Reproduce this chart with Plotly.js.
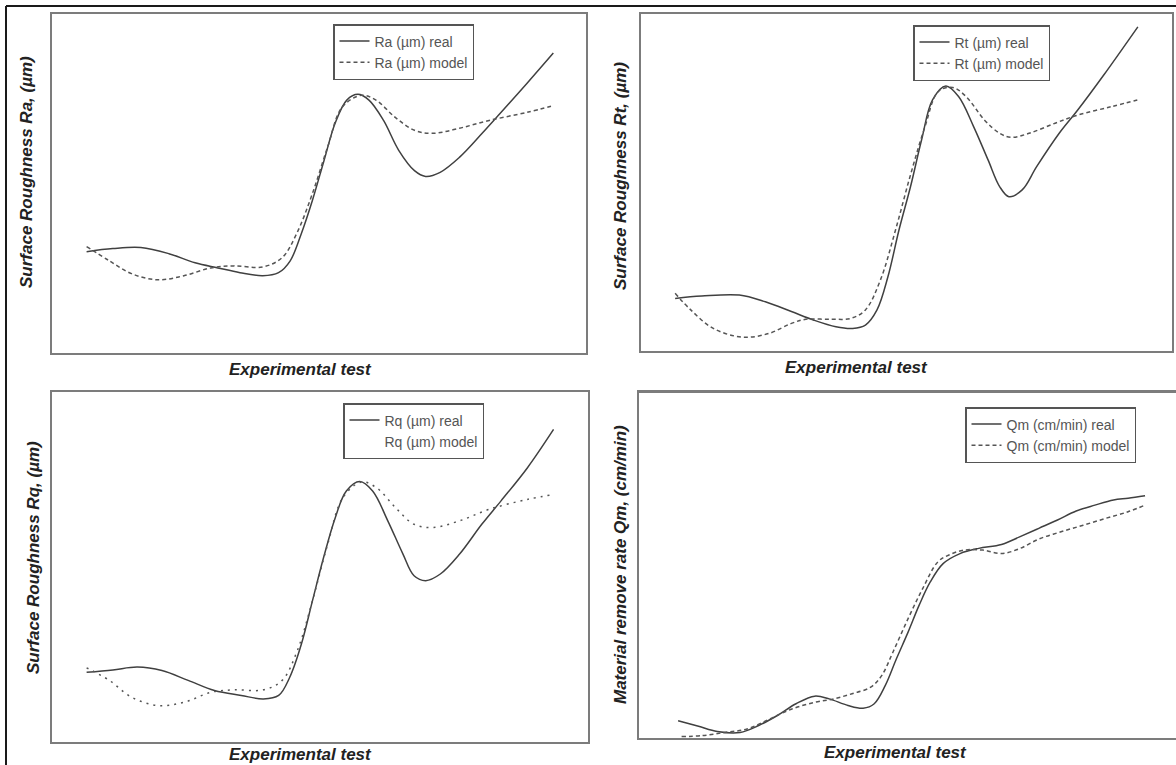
<!DOCTYPE html>
<html>
<head>
<meta charset="utf-8">
<script src="https://cdn.plot.ly/plotly-3.0.1.min.js"></script>
<style>html,body{margin:0;padding:0;background:#fff;}#chart{width:1176px;height:765px;}</style>
</head>
<body>
<div id="chart"></div>
<script>
// ---- Data (x = experimental test position, y = relative value) ----
const raTestReal  = [1.00,1.45,1.93,2.41,2.86,3.25,3.63,4.02,4.29,4.49,4.68,4.87,5.07,5.26,5.46,5.65,5.84,6.09,6.35,6.62,6.81,7.06,7.39,7.78,8.09,8.55,9.00];
const raReal      = [29.9,30.8,31.1,29.3,26.6,25.1,23.7,22.8,23.7,27.2,35.2,45.0,56.8,67.8,74.6,76.3,74.6,68.6,59.8,53.8,52.1,53.3,57.7,64.8,70.7,79.6,88.5];
const raTestModel = [1.00,1.39,1.77,2.22,2.67,3.13,3.52,4.02,4.35,4.60,4.87,5.13,5.38,5.71,5.96,6.29,6.62,6.93,7.39,7.90,8.55,8.96];
const raModel     = [31.4,27.2,23.4,21.6,22.8,25.1,25.7,25.4,28.1,35.2,47.0,60.7,72.5,76.0,74.6,69.5,65.7,64.8,66.3,68.6,71.0,72.8];

const rtTestReal  = [1.00,1.46,2.11,2.56,3.01,3.39,3.78,4.07,4.29,4.49,4.68,4.87,5.07,5.26,5.45,5.68,5.90,6.16,6.41,6.61,6.77,7.00,7.25,7.64,7.96,8.41,9.00];
const rtReal      = [15.6,16.3,16.6,14.6,11.7,9.2,7.2,6.7,7.7,12.2,22.1,35.9,48.8,62.6,74.5,78.6,75.5,66.6,56.7,48.8,45.8,47.8,54.7,64.6,71.5,81.9,96.2];
const rtTestModel = [1.00,1.27,1.66,2.17,2.62,3.01,3.26,3.71,4.04,4.29,4.55,4.81,5.06,5.32,5.55,5.80,6.03,6.35,6.61,6.80,7.12,7.57,7.96,8.54,8.99];
const rtModel     = [17.1,12.2,6.7,4.1,5.2,8.2,9.4,9.4,9.7,12.2,21.1,35.9,51.7,66.6,77.0,78.2,75.5,68.5,64.6,63.4,64.6,67.6,70.0,72.5,74.5];

const rqTestReal  = [1.00,1.45,1.87,2.29,2.74,3.19,3.65,4.03,4.29,4.48,4.68,4.87,5.06,5.26,5.45,5.68,5.90,6.16,6.42,6.61,6.81,7.06,7.39,7.77,8.10,8.55,9.00];
const rqReal      = [19.9,20.6,21.4,20.4,17.6,14.7,13.3,12.3,13.3,18.5,28.0,40.4,52.7,64.1,71.7,74.4,71.7,63.2,53.7,47.5,46.1,48.0,53.7,62.2,68.9,78.3,89.3];
const rqTestModel = [1.00,1.39,1.77,2.23,2.68,3.13,3.52,4.03,4.35,4.61,4.87,5.13,5.39,5.71,5.97,6.29,6.61,6.94,7.39,7.90,8.55,9.00];
const rqModel     = [21.2,17.6,12.8,10.4,11.4,14.2,14.9,14.9,17.6,26.1,40.4,56.5,69.8,74.3,72.6,67.0,62.2,61.3,63.2,66.5,69.3,70.7];

const qmTestReal  = [1.00,1.35,1.67,2.06,2.38,2.70,3.02,3.34,3.59,3.91,4.17,4.36,4.55,4.74,4.94,5.13,5.32,5.54,5.83,6.15,6.54,6.86,7.18,7.50,7.82,8.14,8.46,8.71,9.00];
const qmReal      = [5.0,3.4,1.9,1.6,3.6,6.5,9.9,12.1,11.3,9.4,8.6,9.9,15.2,22.9,30.6,38.4,45.1,50.4,53.3,54.8,55.9,58.2,60.6,63.0,65.6,67.3,68.8,69.3,70.0];
const qmTestModel = [1.06,1.42,1.80,2.18,2.57,2.95,3.34,3.66,3.98,4.30,4.49,4.68,4.94,5.19,5.45,5.64,5.90,6.22,6.54,6.86,7.18,7.56,7.94,8.33,8.71,9.00];
const qmModel     = [0.4,0.7,1.6,2.6,5.5,8.4,10.3,11.3,12.8,14.7,18.1,24.8,34.5,43.2,50.9,52.9,54.3,54.3,53.3,54.8,57.5,59.6,61.5,63.5,65.4,67.3];

const seriesNames = {
  ra: ['Ra (µm) real', 'Ra (µm) model'],
  rt: ['Rt (µm) real', 'Rt (µm) model'],
  rq: ['Rq (µm) real', 'Rq (µm) model'],
  qm: ['Qm (cm/min) real', 'Qm (cm/min) model']
};
const yTitles = ['Surface Roughness Ra, (µm)', 'Surface Roughness Rt, (µm)', 'Surface Roughness Rq, (µm)', 'Material remove rate Qm, (cm/min)'];
const xTitle = 'Experimental test';

// ---- Figure ----
const W = 1176, H = 765;
const FONT = 'Liberation Sans, Arial, sans-serif';
const LINE = '#404040';
const px = v => v / W, py = v => 1 - v / H;

function real(x, y, name, xa, ya, lg) {
  return {x, y, name, xaxis: xa, yaxis: ya, legend: lg, type: 'scatter', mode: 'lines',
          line: {color: LINE, width: 1.5, shape: 'spline', smoothing: 1}};
}
function model(x, y, name, xa, ya, lg, dash) {
  return {x, y, name, xaxis: xa, yaxis: ya, legend: lg, type: 'scatter', mode: 'lines',
          line: {color: '#555', width: 1.5, shape: 'spline', smoothing: 1, dash: dash || '4px,3px'}};
}

const traces = [
  real(raTestReal, raReal, seriesNames.ra[0], 'x', 'y', 'legend'),
  model(raTestModel, raModel, seriesNames.ra[1], 'x', 'y', 'legend'),
  real(rtTestReal, rtReal, seriesNames.rt[0], 'x2', 'y2', 'legend2'),
  model(rtTestModel, rtModel, seriesNames.rt[1], 'x2', 'y2', 'legend2'),
  real(rqTestReal, rqReal, seriesNames.rq[0], 'x3', 'y3', 'legend3'),
  Object.assign(model(rqTestModel, rqModel, seriesNames.rq[1], 'x3', 'y3', 'legend3', '2px,5px'), {showlegend: false}),
  {x: [null], y: [null], name: seriesNames.rq[1], xaxis: 'x3', yaxis: 'y3', legend: 'legend3', type: 'scatter', mode: 'lines',
   line: {color: 'rgba(0,0,0,0)', width: 1}},
  real(qmTestReal, qmReal, seriesNames.qm[0], 'x4', 'y4', 'legend4'),
  model(qmTestModel, qmModel, seriesNames.qm[1], 'x4', 'y4', 'legend4')
];

function axis(domain, range, anchor, mirror) {
  return {domain, range, anchor, showline: true, mirror: mirror === undefined ? true : mirror,
          linecolor: '#7c7c7c', linewidth: 2, showticklabels: false, ticks: '',
          showgrid: false, zeroline: false, fixedrange: true};
}
function legend(x, y) {
  return {x, y, xanchor: 'left', yanchor: 'top', bgcolor: '#fff', bordercolor: '#555', borderwidth: 1.5,
          font: {family: FONT, size: 14, color: '#555'}, tracegroupgap: 0, itemwidth: 30};
}
function titleAnn(text, x, y, angle) {
  return {text: '<b><i>' + text + '</i></b>', x: px(x), y: py(y), xref: 'paper', yref: 'paper',
          showarrow: false, textangle: angle || 0, xanchor: 'center', yanchor: 'middle',
          font: {family: FONT, size: 17, color: '#222'}};
}

const layout = {
  width: W, height: H, margin: {l: 0, r: 0, t: 0, b: 0},
  paper_bgcolor: '#fff', plot_bgcolor: '#fff', showlegend: true,
  xaxis:  axis([px(52), px(586)],  [0.407, 9.56], 'y'),
  yaxis:  axis([py(353), py(14)],  [0, 100], 'x'),
  xaxis2: axis([px(641), px(1172)], [0.41, 9.59], 'y2'),
  yaxis2: axis([py(351), py(14)],  [0, 100], 'x2'),
  xaxis3: axis([px(52), px(588)],  [0.407, 9.59], 'y3'),
  yaxis3: axis([py(742), py(392)], [0, 100], 'x3'),
  xaxis4: axis([px(639), 1], [0.33, 9.53], 'y4'),
  yaxis4: axis([py(738), py(392)], [0, 100], 'x4', false),
  legend:  legend(px(333), py(24)),
  legend2: legend(px(913), py(25)),
  legend3: legend(px(343), py(403)),
  legend4: legend(px(965), py(407)),
  annotations: [
    titleAnn(yTitles[0], 27, 172, -90),
    titleAnn(yTitles[1], 621, 176, -90),
    titleAnn(yTitles[2], 33, 558, -90),
    titleAnn(yTitles[3], 620, 565, -90),
    titleAnn(xTitle, 300, 369),
    titleAnn(xTitle, 856, 367),
    titleAnn(xTitle, 300, 754),
    titleAnn(xTitle, 895, 752)
  ],
  shapes: [
    {type: 'line', xref: 'paper', yref: 'paper', x0: px(6), x1: 1, y0: py(6), y1: py(6), line: {color: '#1a1a1a', width: 2}},
    {type: 'line', xref: 'paper', yref: 'paper', x0: px(6), x1: px(6), y0: py(6), y1: 0, line: {color: '#1a1a1a', width: 2}},
    {type: 'line', xref: 'paper', yref: 'paper', x0: px(639), x1: 1, y0: py(392), y1: py(392), line: {color: '#7c7c7c', width: 2}}
  ]
};

Plotly.newPlot('chart', traces, layout, {displayModeBar: false, staticPlot: true});
</script>
</body>
</html>
